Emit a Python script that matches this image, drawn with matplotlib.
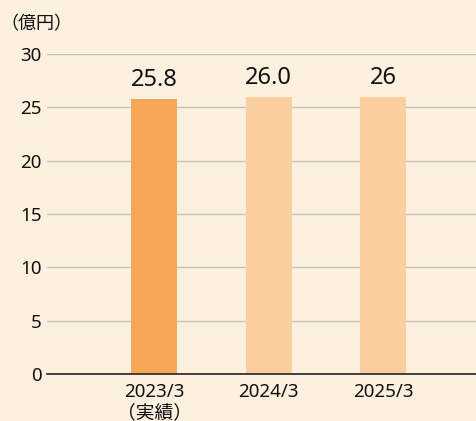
import matplotlib.pyplot as plt

plt.rcParams['font.family'] = ['Noto Sans', 'Noto Sans CJK JP', 'DejaVu Sans']

categories = ['2023/3\n（実績）', '2024/3', '2025/3']
values = [25.8, 26.0, 26]
value_labels = ['25.8', '26.0', '26']
bar_colors = ['#F5A855', '#FACE9E', '#FACE9E']
y_ticks = [0, 5, 10, 15, 20, 25, 30]

bg = '#FDF0DE'

fig = plt.figure(figsize=(4.76, 4.21), dpi=100, facecolor=bg)
ax = fig.add_axes([0.0987, 0.1116, 0.9013, 0.760], facecolor=bg)

x = list(range(len(categories)))
ax.bar(x, values, width=0.40, color=bar_colors, zorder=3)

for xi, v, lab in zip(x, values, value_labels):
    ax.annotate(lab, (xi, v), xytext=(0, 5), textcoords='offset points',
                ha='center', va='bottom', fontsize=17, color='#111111')

ax.set_xlim(-0.934, 2.81)
ax.set_ylim(0, 30)
ax.set_yticks(y_ticks)
ax.set_yticklabels([str(t) for t in y_ticks], fontsize=13.5, color='#111111')
ax.set_xticks(x)
ax.set_xticklabels(categories, fontsize=13.5, color='#111111', linespacing=1.25)

ax.yaxis.grid(True, color='#C4C4C4', linewidth=1.0, zorder=0)
ax.tick_params(axis='both', length=0)
ax.tick_params(axis='y', pad=4)
ax.tick_params(axis='x', pad=6.5)

for side in ['left', 'right', 'top']:
    ax.spines[side].set_visible(False)
ax.spines['bottom'].set_color('#333333')
ax.spines['bottom'].set_linewidth(1.3)
ax.spines['bottom'].set_zorder(4)

fig.text(0.0, 0.943, '（億円）', fontsize=13, ha='left', va='center', color='#111111')

fig.savefig('out.png', dpi=100, facecolor=bg)
